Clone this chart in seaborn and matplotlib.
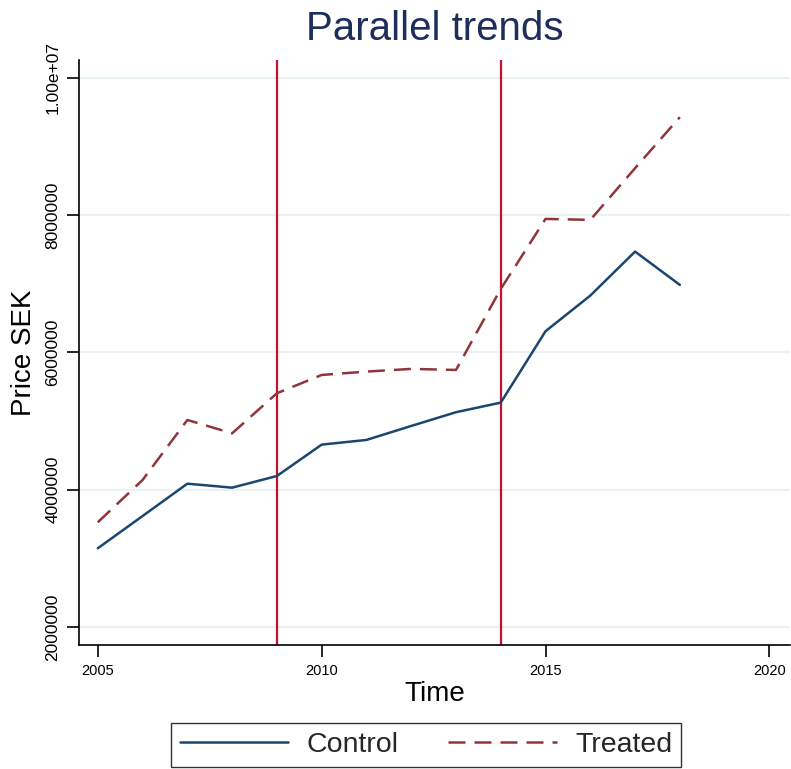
import matplotlib
matplotlib.use("Agg")
import matplotlib.pyplot as plt
import seaborn as sns
import pandas as pd

years = [2005, 2006, 2007, 2008, 2009, 2010, 2011, 2012, 2013, 2014, 2015, 2016, 2017, 2018]
control = [3147000, 3617000, 4088000, 4030000, 4200000, 4657000, 4725000, 4929000,
           5129000, 5269000, 6309000, 6828000, 7469000, 6984000]
treated = [3526000, 4142000, 5016000, 4822000, 5405000, 5672000, 5721000, 5760000,
           5745000, 6925000, 7945000, 7931000, 8684000, 9427000]
groups = ["Control", "Treated"]
event_years = [2009, 2014]
x_ticks = [2005, 2010, 2015, 2020]
y_ticks = [2000000, 4000000, 6000000, 8000000, 10000000]
y_tick_labels = ["2000000", "4000000", "6000000", "8000000", "1.00e+07"]

df = pd.DataFrame({
    "Time": years * 2,
    "Price SEK": control + treated,
    "group": [groups[0]] * len(years) + [groups[1]] * len(years),
})

sns.set_theme(style="white")
plt.rcParams["font.family"] = ["Liberation Sans", "DejaVu Sans"]

fig = plt.figure(figsize=(7.91, 7.69), dpi=100)
ax = fig.add_axes([79 / 791, 124 / 769, 711 / 791, 585 / 769])

# light horizontal grid
for v in y_ticks:
    ax.axhline(v, color="#eaf2f3", lw=1.6, zorder=0)

sns.lineplot(
    data=df, x="Time", y="Price SEK", hue="group", style="group",
    palette={"Control": "#1a476f", "Treated": "#90353b"},
    dashes={"Control": "", "Treated": (6.8, 3.6)},
    linewidth=1.8, ax=ax, legend=False, zorder=3,
)

for yr in event_years:
    ax.axvline(yr, color="#c8102e", lw=1.6, zorder=2)

ax.set_xlim(2004.58, 2020.46)
ax.set_ylim(1738000, 10260000)
ax.set_xticks(x_ticks)
ax.set_xticklabels([str(t) for t in x_ticks], fontsize=10.5)
ax.set_yticks(y_ticks)
ax.set_yticklabels(y_tick_labels, fontsize=12.5, rotation=90, va="center")

for side in ["top", "right"]:
    ax.spines[side].set_visible(False)
for side in ["left", "bottom"]:
    ax.spines[side].set_color("black")
    ax.spines[side].set_linewidth(1.2)
ax.tick_params(axis="both", which="major", length=8.5, width=1.2, color="black",
               direction="out", left=True, bottom=True, labelcolor="black", pad=5)

ax.set_xlabel("Time", fontsize=20, color="black", labelpad=2)
ax.set_ylabel("Price SEK", fontsize=20, color="black", labelpad=6)
ax.set_title("Parallel trends", fontsize=29, color="#1e2d5a", pad=14.5)

handles = [
    plt.Line2D([], [], color="#1a476f", lw=1.8),
    plt.Line2D([], [], color="#90353b", lw=1.8, dashes=(6.8, 3.6)),
]
leg = fig.legend(
    handles, groups, loc="center", bbox_to_anchor=(426 / 791, 1 - 745 / 769),
    ncol=2, fontsize=20.5, frameon=True, fancybox=False, handlelength=3.8,
    columnspacing=1.75, handletextpad=0.65, borderpad=0.3, edgecolor="black",
)
leg.get_frame().set_linewidth(1.0)

fig.savefig("out.png", dpi=100, facecolor="white")
